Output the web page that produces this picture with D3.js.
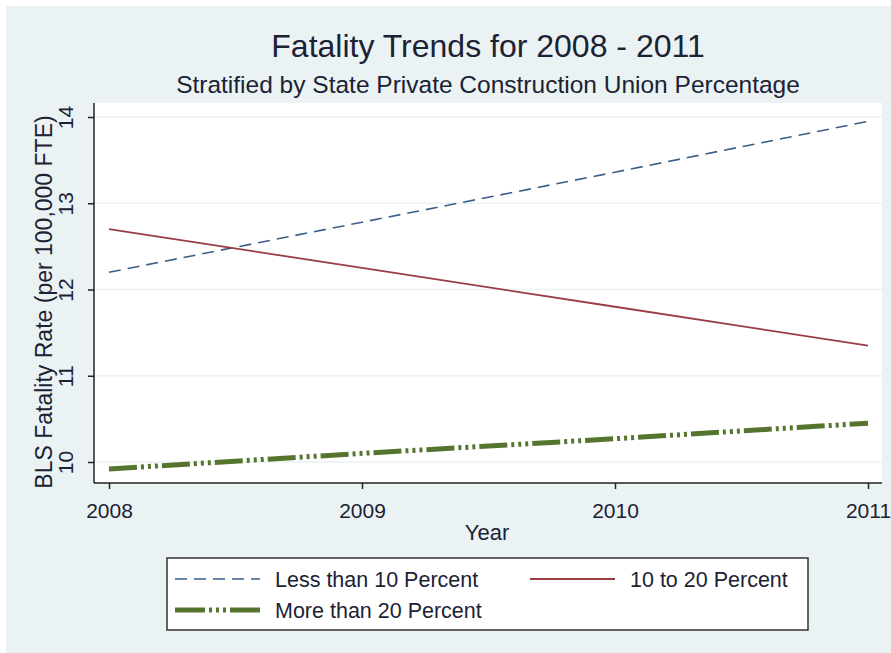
<!DOCTYPE html>
<html>
<head>
<meta charset="utf-8">
<script src="https://cdn.jsdelivr.net/npm/d3@7/dist/d3.min.js"></script>
<style>
  html, body { margin: 0; padding: 0; background: #fff; }
  svg { display: block; font-family: "Liberation Sans", Arial, sans-serif; }
</style>
</head>
<body>
<svg id="chart" width="891" height="653"></svg>
<script>
// ---- data ----
const years = [2008, 2009, 2010, 2011];
const lessThan10 = [12.2, 12.78, 13.36, 13.95];
const tenTo20 = [12.7, 12.25, 11.8, 11.35];
const moreThan20 = [9.92, 10.1, 10.27, 10.45];
const yTicks = [10, 11, 12, 13, 14];
const xTicks = [2008, 2009, 2010, 2011];
const seriesNames = ["Less than 10 Percent", "10 to 20 Percent", "More than 20 Percent"];

const svg = d3.select("#chart");
const textColor = "#1b2233";

// outer background
svg.append("rect").attr("x", 6).attr("y", 6).attr("width", 885).attr("height", 647).attr("fill", "#eaf2f3");

const plot = { left: 94, right: 882, top: 103, bottom: 483 };
const x = d3.scaleLinear().domain([2008, 2011]).range([109, 868]);
const y = d3.scaleLinear().domain([10, 14]).range([462, 117]);

// plot region
svg.append("rect").attr("x", plot.left).attr("y", plot.top)
  .attr("width", plot.right - plot.left).attr("height", plot.bottom - plot.top).attr("fill", "#fff");

// gridlines
svg.append("g").selectAll("line").data(yTicks).join("line")
  .attr("x1", plot.left).attr("x2", plot.right)
  .attr("y1", d => y(d)).attr("y2", d => y(d))
  .attr("stroke", "#eaf2f3").attr("stroke-width", 1.5);

// lines
const lineGen = vals => d3.line().x((d, i) => x(years[i])).y(d => y(d))(vals);

svg.append("path").attr("d", lineGen(lessThan10)).attr("fill", "none")
  .attr("stroke", "#3a5f86").attr("stroke-width", 1.6).attr("stroke-dasharray", "12,7");
svg.append("path").attr("d", lineGen(tenTo20)).attr("fill", "none")
  .attr("stroke", "#9a3d44").attr("stroke-width", 1.8);
svg.append("path").attr("d", lineGen(moreThan20)).attr("fill", "none")
  .attr("stroke", "#55752f").attr("stroke-width", 5).attr("stroke-dasharray", "28,4,3,4,3,4,3,4");

// y axis
const yAxis = svg.append("g").attr("transform", `translate(${plot.left},0)`)
  .call(d3.axisLeft(y).tickValues(yTicks).tickSize(6).tickSizeOuter(0).tickFormat(d3.format("d")));
yAxis.select(".domain").attr("d", `M0,${plot.top}V${plot.bottom}`).attr("stroke", "#222").attr("stroke-width", 1.5);
yAxis.selectAll(".tick line").attr("stroke", "#222").attr("stroke-width", 1.5);
yAxis.selectAll(".tick text")
  .attr("x", null).attr("dy", null)
  .attr("transform", "translate(-21,0) rotate(-90)")
  .attr("text-anchor", "middle")
  .attr("font-size", 21).attr("fill", textColor).attr("font-family", "Liberation Sans, Arial, sans-serif");

// x axis
const xAxis = svg.append("g").attr("transform", `translate(0,${plot.bottom})`)
  .call(d3.axisBottom(x).tickValues(xTicks).tickSize(6).tickSizeOuter(0).tickFormat(d3.format("d")));
xAxis.select(".domain").attr("d", `M${plot.left},0H${plot.right}`).attr("stroke", "#222").attr("stroke-width", 1.5);
xAxis.selectAll(".tick line").attr("stroke", "#222").attr("stroke-width", 1.5);
xAxis.selectAll(".tick text")
  .attr("y", 35).attr("dy", null)
  .attr("font-size", 21).attr("fill", textColor).attr("font-family", "Liberation Sans, Arial, sans-serif");

// titles
svg.append("text").attr("x", 488).attr("y", 57).attr("text-anchor", "middle")
  .attr("font-size", 32).attr("fill", textColor).text("Fatality Trends for 2008 - 2011");
svg.append("text").attr("x", 488).attr("y", 93).attr("text-anchor", "middle")
  .attr("font-size", 24.5).attr("fill", textColor).text("Stratified by State Private Construction Union Percentage");
svg.append("text").attr("x", 487).attr("y", 540).attr("text-anchor", "middle")
  .attr("font-size", 22).attr("fill", textColor).text("Year");
svg.append("text").attr("transform", "translate(52,302) rotate(-90)").attr("text-anchor", "middle")
  .attr("font-size", 23).attr("fill", textColor).text("BLS Fatality Rate (per 100,000 FTE)");

// legend
const lg = svg.append("g");
lg.append("rect").attr("x", 167).attr("y", 558).attr("width", 641).attr("height", 72)
  .attr("fill", "#fff").attr("stroke", "#333").attr("stroke-width", 1.5);
const legendItems = [
  { name: seriesNames[0], x: 175, y: 579, color: "#3a5f86", w: 1.6, dash: "12,7" },
  { name: seriesNames[1], x: 530, y: 579, color: "#9a3d44", w: 1.8, dash: null },
  { name: seriesNames[2], x: 175, y: 610, color: "#55752f", w: 5, dash: "30,4,3,4,3,4,3,4" }
];
legendItems.forEach(it => {
  lg.append("line").attr("x1", it.x).attr("x2", it.x + 85).attr("y1", it.y).attr("y2", it.y)
    .attr("stroke", it.color).attr("stroke-width", it.w).attr("stroke-dasharray", it.dash);
  lg.append("text").attr("x", it.x + 100).attr("y", it.y + 7.5)
    .attr("font-size", 21.5).attr("fill", textColor).text(it.name);
});
</script>
</body>
</html>
